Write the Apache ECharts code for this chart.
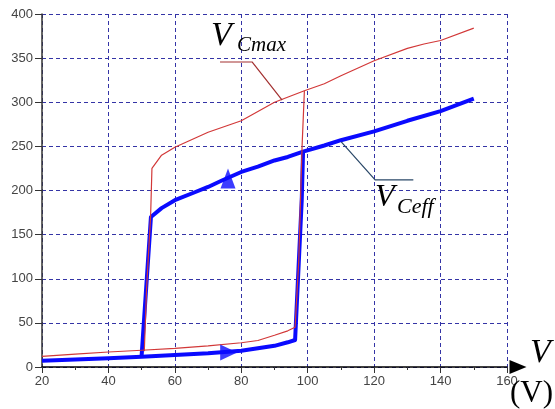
<!DOCTYPE html>
<html>
<head>
<meta charset="utf-8">
<script src="https://cdn.jsdelivr.net/npm/echarts@6/dist/echarts.min.js"></script>
<style>
  html, body { margin: 0; padding: 0; background: #fff; }
  #chart { width: 555px; height: 409px; }
</style>
</head>
<body>
<div id="chart"></div>
<script>
// Supply voltage V (V) vs capacitor voltages (V): hysteresis loops
// V_Cmax, rising sweep: lower branch, jump, upper branch
const cmaxRise = [[20,12],[30,14.5],[40,17],[50,19],[60,21],[70,24],[80,27.5],[85,30],[90,36],[94,41],[96.2,45],[97.3,120],[98.3,250],[99,313],[105,321],[110,330],[120,347],[130,361],[135,366],[140,370],[150,384]];
// V_Cmax, falling sweep: upper branch back down to the drop
const cmaxFall = [[99,313],[90,300],[80,279],[70,266],[60,249],[56,240],[53.1,225],[52.7,171],[51.5,90],[50.8,18]];
// V_Ceff, rising sweep
const ceffRise = [[20,7],[30,8.5],[40,10],[50,11.7],[60,13.5],[70,15.5],[80,18.5],[90,24],[94,28],[96.2,30.6],[98.2,189],[98.6,244],[105,251],[110,257],[120,267],[130,279],[140,290],[150,304]];
// V_Ceff, falling sweep
const ceffFall = [[98.6,244],[94,238],[90,234],[85,227],[80,221],[74,211],[70,204],[66,198],[60,189],[56,180],[52.8,170],[50,13]];
// direction markers on the V_Ceff loop
const markUp = [[76,213.7]];
const markRight = [[76.2,16.4]];
// axis ranges
const xRange = { min: 20, max: 160, step: 20 };
const yRange = { min: 0, max: 400, step: 50 };
// leader lines for the curve names (data coordinates)
const cmaxLeader = [[73.6,345.6],[83.3,345.6],[92.3,302.5]];
const ceffLeader = [[110.1,255],[120.3,212],[131.8,212]];

const RED = '#d23838';
const BLUE = '#0a0aff';
const GRIDC = '#3434a6';

const chart = echarts.init(document.getElementById('chart'), null, { renderer: 'canvas' });

const tickLabel = { color: '#444', fontFamily: '"Liberation Sans", Arial, sans-serif', fontSize: 13 };

chart.setOption({
  animation: false,
  backgroundColor: '#fff',
  grid: { left: 42, right: 48, top: 14, bottom: 42, containLabel: false },
  xAxis: {
    type: 'value', min: xRange.min, max: xRange.max, interval: xRange.step,
    axisLine: { show: true, onZero: false, lineStyle: { color: '#000', width: 1.5 },
      symbol: ['none', 'triangle'], symbolSize: [14, 17], symbolOffset: [0, 11] },
    axisTick: { show: true, length: 6, lineStyle: { color: '#333', width: 1 } },
    minorTick: { show: true, splitNumber: 2, length: 3, lineStyle: { color: '#333', width: 1 } },
    axisLabel: Object.assign({ margin: 8 }, tickLabel),
    splitLine: { show: true, lineStyle: { color: GRIDC, width: 1, type: [4, 3] } }
  },
  yAxis: {
    type: 'value', min: yRange.min, max: yRange.max, interval: yRange.step,
    axisLine: { show: true, onZero: false, lineStyle: { color: '#333', width: 1.5 } },
    axisTick: { show: true, length: 7, lineStyle: { color: '#333', width: 1 } },
    axisLabel: Object.assign({ margin: 9 }, tickLabel),
    splitLine: { show: true, lineStyle: { color: GRIDC, width: 1, type: [4, 3] } }
  },
  series: [
    { name: 'VCeff rise', type: 'line', data: ceffRise, showSymbol: false, z: 3,
      lineStyle: { color: BLUE, width: 4, join: 'round' } },
    { name: 'VCeff fall', type: 'line', data: ceffFall, showSymbol: false, z: 3,
      lineStyle: { color: BLUE, width: 4, join: 'round' } },
    { name: 'VCmax rise', type: 'line', data: cmaxRise, showSymbol: false, z: 4,
      lineStyle: { color: RED, width: 1.2 } },
    { name: 'VCmax fall', type: 'line', data: cmaxFall, showSymbol: false, z: 4,
      lineStyle: { color: RED, width: 1.2 } },
    { name: 'dir up', type: 'scatter', data: markUp, symbol: 'triangle', symbolSize: [15, 20],
      symbolRotate: 0, z: 5, itemStyle: { color: BLUE } },
    { name: 'dir right', type: 'scatter', data: markRight, symbol: 'triangle', symbolSize: [16, 17],
      symbolRotate: -90, z: 5, itemStyle: { color: BLUE } }
  ]
});

const px = p => chart.convertToPixel({ gridIndex: 0 }, p);
const serif = '"Liberation Serif", "Times New Roman", serif';
function txt(x, y, text, font) {
  return { type: 'text', x: x, y: y, z: 10,
    style: { text: text, font: font, fill: '#000', align: 'left', verticalAlign: 'middle',
             textAlign: 'left', textVerticalAlign: 'middle' } };
}

chart.setOption({
  graphic: [
    { type: 'polyline', z: 6, shape: { points: cmaxLeader.map(px) },
      style: { stroke: '#a33030', lineWidth: 1.2, fill: null } },
    { type: 'polyline', z: 6, shape: { points: ceffLeader.map(px) },
      style: { stroke: '#2a4868', lineWidth: 1.2, fill: null } },
    txt(211, 36.5, 'V', 'italic 34px ' + serif),
    txt(237, 45, 'Cmax', 'italic 21px ' + serif),
    txt(375, 198, 'V', 'italic 32px ' + serif),
    txt(397, 207, 'Ceff', 'italic 22px ' + serif),
    txt(530, 353.5, 'V', 'italic 34px ' + serif),
    txt(510, 394, '(V)', '31px ' + serif)
  ]
});
</script>
</body>
</html>
